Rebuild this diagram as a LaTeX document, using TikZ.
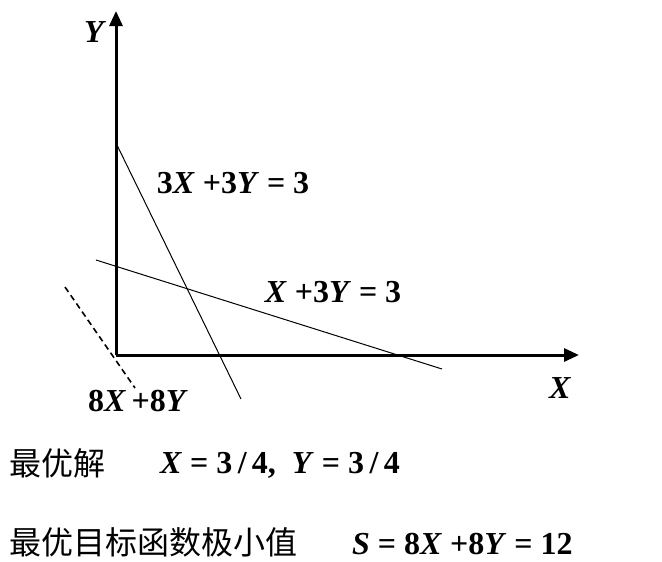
\documentclass[tikz,border=0pt]{standalone}
\usepackage{fontspec}
\setmainfont{Liberation Serif}
\newfontfamily\cjk{Noto Sans CJK SC}
\usetikzlibrary{arrows.meta}
\newcommand{\vx}{\textit{X}}
\newcommand{\vy}{\textit{Y}}

\begin{document}
\begin{tikzpicture}[x=1pt, y=-1pt,
  axis/.style={line width=3pt, -{Triangle[length=15pt, width=13pt]}},
  cons/.style={line width=1pt},
  objline/.style={line width=1.6pt, dashed, dash pattern=on 6pt off 4pt},
  lbl/.style={font=\fontsize{32}{34}\selectfont\bfseries, inner sep=0pt},
  cjktxt/.style={font=\fontsize{32}{34}\selectfont\cjk, inner sep=0pt, anchor=west},
]
  \useasboundingbox (0,0) rectangle (662,562);

  % axes
  \coordinate (origin) at (116,355);
  \coordinate (ytop) at (116,11);
  \coordinate (xend) at (579,355);
  \draw[axis] (origin) -- (ytop);
  \draw[axis] (origin) -- (xend);
  \node[lbl] (ylab) at (95,32) {\vy};
  \node[lbl] (xlab) at (560,388) {\vx};

  % constraint lines
  \coordinate (a1) at (116,143);
  \coordinate (a2) at (241,399);
  \coordinate (b1) at (96,260);
  \coordinate (b2) at (442,369);
  \draw[cons] (a1) -- (a2);
  \draw[cons] (b1) -- (b2);
  \node[lbl] (eqa) at (233,183) {3\vx\ +3\vy\ = 3};
  \node[lbl] (eqb) at (333,292) {\vx\ +3\vy\ = 3};

  % objective line
  \coordinate (c1) at (65,287);
  \coordinate (c2) at (135,388);
  \draw[objline] (c1) -- (c2);
  \node[lbl] (obj) at (138,401) {8\vx\,+8\vy};

  % results
  \node[cjktxt] (sol) at (9,463) {最优解};
  \node[lbl, anchor=west] (solval) at (160,465) {\vx\ = 3\,/\,4,\ \ \vy\ = 3\,/\,4};
  \node[cjktxt] (opt) at (9,542) {最优目标函数极小值};
  \node[lbl, anchor=west] (optval) at (352,544) {\textit{S}\ = 8\vx\ +8\vy\ = 12};
\end{tikzpicture}
\end{document}
